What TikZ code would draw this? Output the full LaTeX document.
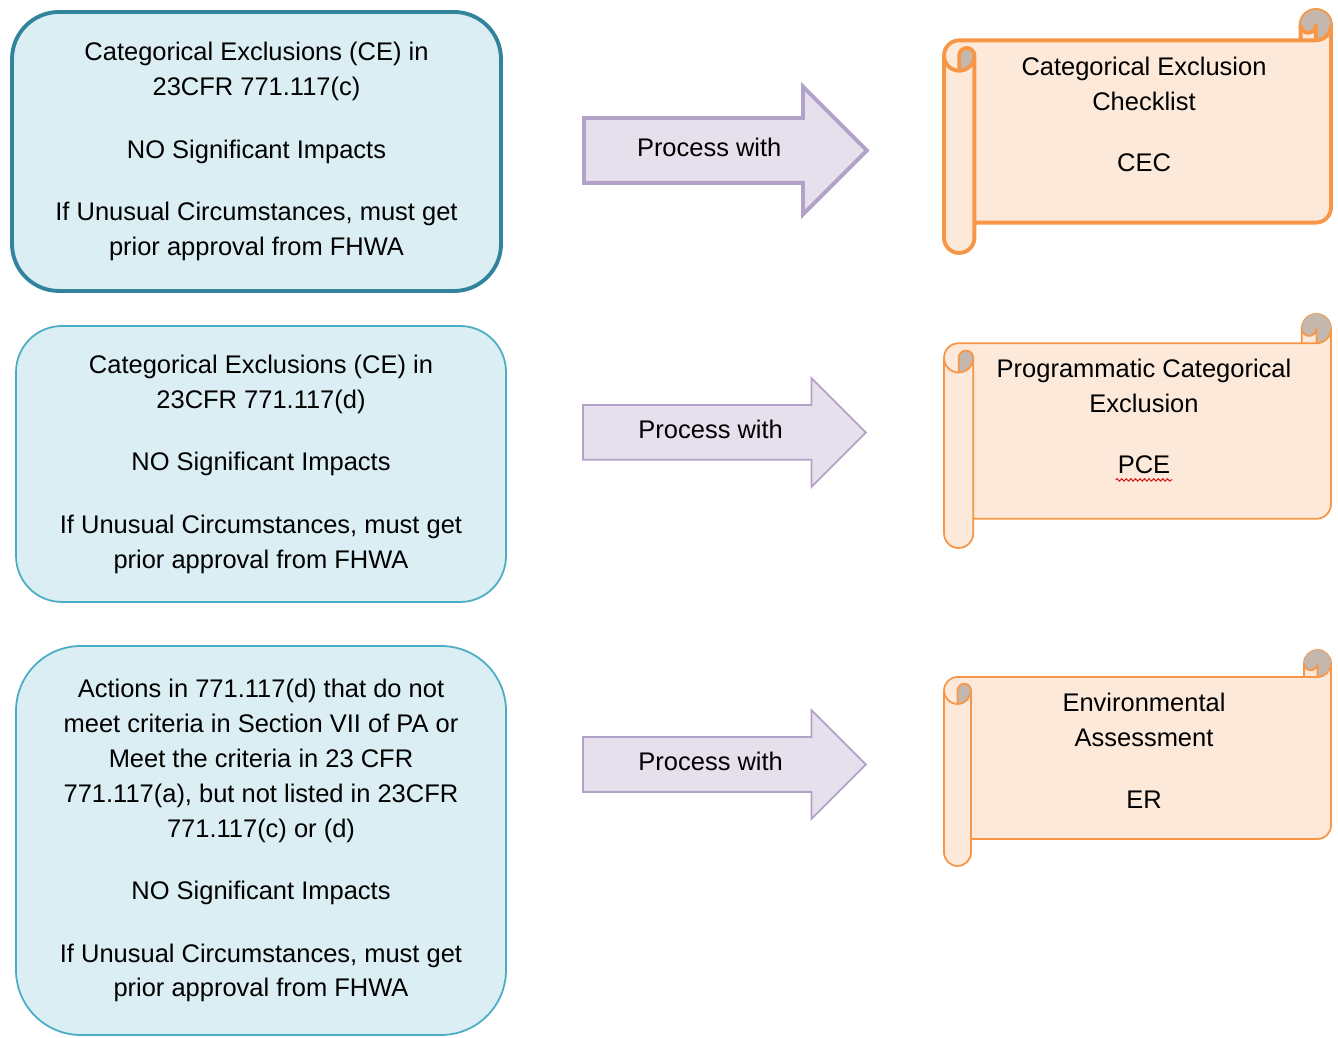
\documentclass[tikz,border=0pt]{standalone}
\usepackage{fontspec}
\setmainfont{Liberation Sans}
\usetikzlibrary{positioning,shapes.arrows,decorations.pathmorphing}

\definecolor{boxfill}{HTML}{DAEEF3}
\definecolor{boxline}{HTML}{4BACC6}
\definecolor{boxlinedark}{HTML}{31849B}
\definecolor{arrowfill}{HTML}{E5E0EC}
\definecolor{arrowline}{HTML}{B3A2C7}
\definecolor{scrollfill}{HTML}{FDE9D9}
\definecolor{scrollline}{HTML}{F79646}
\definecolor{scrolldark}{HTML}{C4B8AE}

\newcommand{\diagfont}{\fontsize{14.5pt}{19.9pt}\selectfont}

\tikzset{
    % Left-hand category boxes
    catbox/.style={
        draw=boxline,
        fill=boxfill,
        line width=1pt,
        align=center,
        font=\diagfont
    },
    % Block arrows in the middle column
    procarrow/.style={
        single arrow,
        draw=arrowline,
        fill=arrowfill,
        line width=1pt,
        single arrow tip angle=90,
        single arrow head indent=0pt,
        single arrow head extend=0.54cm,
        minimum height=5.66cm,
        text height=0.35cm,
        text depth=0.1cm,
        inner ysep=0.305cm,
        anchor=tail,
        font=\diagfont
    },
    % Scroll outline, shading and inner edges
    scrollbody/.style={
        draw=scrollline,
        fill=scrollfill,
        line width=1pt,
        line join=round
    },
    scrollshade/.style={
        fill=scrolldark
    },
    scrolledge/.style={
        draw=scrollline,
        line width=1pt,
        line join=round
    },
    % Text inside the scrolls
    scrolltext/.style={
        align=center,
        font=\diagfont
    },
    % Heavy outline for the first row
    heavy/.style={
        line width=2.2pt
    },
    % Spell-check squiggle
    spellmark/.style={
        draw=red!85!black,
        line width=0.5pt,
        decorate,
        decoration={snake, amplitude=0.7pt, segment length=2.6pt}
    }
}

% horizontal scroll: [options]{left}{bottom}{right}{top}
\newcommand{\scrollframe}[5][]{%
    \pgfmathsetmacro{\scrc}{0.125*(#5-#3)}%
    \pgfmathsetmacro{\scrh}{0.5*\scrc}%
    \pgfmathsetmacro{\scrq}{0.25*\scrc}%
    \path[scrollbody,#1]
        ({#2},{#5-1.5*\scrc}) arc[start angle=180, end angle=90, radius=\scrh]
        -- ({#4-\scrc},{#5-\scrc}) -- ({#4-\scrc},{#5-\scrh})
        arc[start angle=180, end angle=0, radius=\scrh]
        -- ({#4},{#3+1.5*\scrc}) arc[start angle=0, end angle=-90, radius=\scrh]
        -- ({#2+\scrc},{#3+\scrc}) -- ({#2+\scrc},{#3+\scrh})
        arc[start angle=0, end angle=-180, radius=\scrh] -- cycle;
    \path[scrollshade]
        ({#2+\scrh},{#5-2*\scrc}) arc[start angle=270, end angle=360, radius=\scrh]
        arc[start angle=0, end angle=180, radius=\scrq] -- cycle
        ({#4-\scrh},{#5-\scrc}) arc[start angle=270, end angle=540, radius=\scrh]
        arc[start angle=180, end angle=360, radius=\scrq] -- cycle;
    \path[scrolledge,#1]
        ({#4-\scrc},{#5-\scrc}) -- ({#4-\scrh},{#5-\scrc})
        arc[start angle=270, end angle=360, radius=\scrh]
        ({#4-\scrh},{#5-\scrc}) -- ({#4-\scrh},{#5-\scrh})
        arc[start angle=0, end angle=-180, radius=\scrq]
        ({#2+\scrh},{#5-2*\scrc}) -- ({#2+\scrh},{#5-1.5*\scrc})
        arc[start angle=180, end angle=0, radius=\scrq]
        arc[start angle=0, end angle=-180, radius=\scrh]
        ({#2+\scrc},{#5-1.5*\scrc}) -- ({#2+\scrc},{#3+\scrc});
}

\begin{document}
\begin{tikzpicture}
\useasboundingbox (0,0) rectangle (26.76,20.76);

% ==================== LEFT COLUMN: PROJECT TYPES ====================
\node[catbox, draw=boxlinedark, heavy, minimum width=9.78cm, minimum height=5.58cm,
    rounded corners=0.94cm] (ceC) at (5.13,17.73)
    {Categorical Exclusions (CE) in\\23CFR 771.117(c)\\[0.55cm]NO Significant Impacts\\[0.55cm]If Unusual Circumstances, must get\\prior approval from FHWA};

\node[catbox, minimum width=9.8cm, minimum height=5.52cm,
    rounded corners=0.92cm] (ceD) at (5.22,11.48)
    {Categorical Exclusions (CE) in\\23CFR 771.117(d)\\[0.55cm]NO Significant Impacts\\[0.55cm]If Unusual Circumstances, must get\\prior approval from FHWA};

\node[catbox, minimum width=9.8cm, minimum height=7.78cm,
    rounded corners=1.3cm] (other) at (5.22,3.95)
    {Actions in 771.117(d) that do not\\meet criteria in Section VII of PA or\\Meet the criteria in 23 CFR\\771.117(a), but not listed in 23CFR\\771.117(c) or (d)\\[0.55cm]NO Significant Impacts\\[0.55cm]If Unusual Circumstances, must get\\prior approval from FHWA};

% ==================== MIDDLE COLUMN: BLOCK ARROWS ====================
\node[procarrow, heavy, single arrow head extend=0.63cm, inner ysep=0.385cm]
    (procA) at (11.64,17.75) {Process with};
\node[procarrow] (procB) at (11.64,12.11) {Process with};
\node[procarrow] (procC) at (11.64,5.47) {Process with};

% ==================== RIGHT COLUMN: DOCUMENT SCROLLS ====================
\scrollframe[heavy]{18.88}{15.70}{26.62}{20.56}
\node[scrolltext] (cecname) at (22.88,19.09) {Categorical Exclusion\\Checklist};
\node[scrolltext] (ceccode) at (22.88,17.50) {CEC};

\scrollframe{18.88}{9.80}{26.62}{14.48}
\node[scrolltext] (pcename) at (22.88,13.05) {Programmatic Categorical\\Exclusion};
\node[scrolltext, inner xsep=1pt] (pcecode) at (22.88,11.46) {PCE};
\draw[spellmark] ([yshift=-3.5pt]pcecode.base west) -- ([yshift=-3.5pt]pcecode.base east);

\scrollframe{18.88}{3.44}{26.62}{7.76}
\node[scrolltext] (eaname) at (22.88,6.36) {Environmental\\Assessment};
\node[scrolltext] (eacode) at (22.88,4.76) {ER};

\end{tikzpicture}
\end{document}
